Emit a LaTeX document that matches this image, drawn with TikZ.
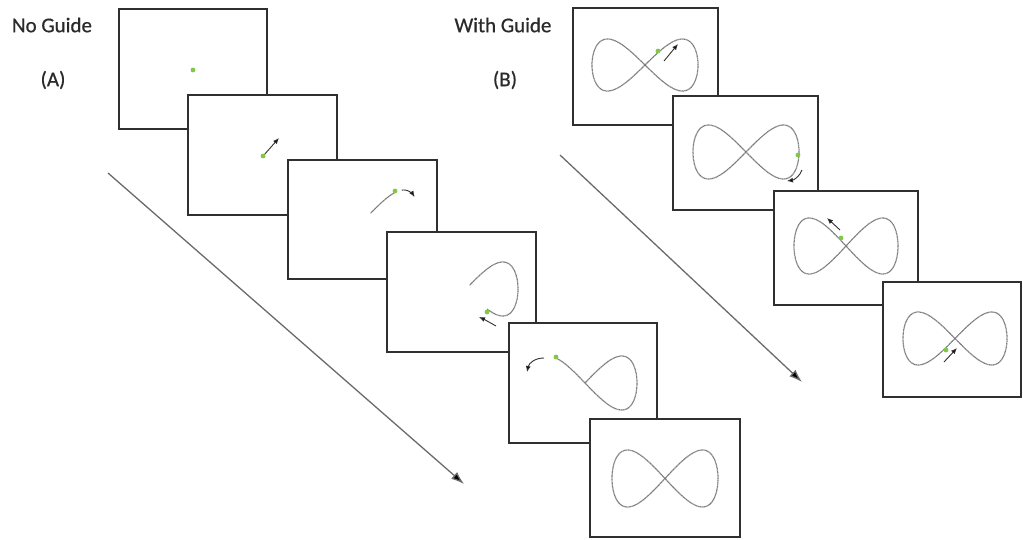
\documentclass[tikz,border=0pt]{standalone}
\usepackage{fontspec}
\setmainfont{Carlito}[FakeBold=0.6]
\usetikzlibrary{arrows.meta}
\definecolor{boxc}{HTML}{303030}
\definecolor{txtc}{HTML}{2A2A2A}
\definecolor{dotg}{RGB}{130,200,70}
\definecolor{tracec}{HTML}{7A7A7A}
\definecolor{longc}{HTML}{6A6A6A}
\begin{document}
\begin{tikzpicture}[x=1pt,y=-1pt,
  panel/.style={draw=boxc, line width=1.9pt, fill=white, inner sep=0pt, outer sep=0pt, anchor=north west},
  lbl/.style={font=\fontsize{21}{25}\selectfont, text=txtc, inner sep=0pt},
  trace/.style={draw=tracec, line width=1.2pt, dash pattern=on 0.9pt off 0.45pt},
  smarr/.style={draw=boxc, line width=0.9pt, -{Latex[length=6pt,width=5pt,fill=black]}},
  longarr/.style={draw=longc, line width=1.3pt, -{Latex[length=13pt,width=9pt,fill=black]}},
  gdot/.style={fill=dotg, draw=none}]
\useasboundingbox (0,0) rectangle (1023,539);
% labels
\node[lbl] (tA) at (52,25) {No Guide};
\node[lbl] (lA) at (53,80) {(A)};
\node[lbl] (tB) at (503,25) {With Guide};
\node[lbl] (lB) at (505,80) {(B)};
% long arrows
\coordinate (sA) at (108,173);
\coordinate (eA) at (464,484);
\draw[longarr] (sA) -- (eA);
\coordinate (sB) at (560,155);
\coordinate (eB) at (802,382);
\draw[longarr] (sB) -- (eB);
% ---------- A series ----------
\node[panel, minimum width=148pt, minimum height=120pt] (a1) at (119,9) {};
\fill[gdot] (193,70) circle (2.4pt);
\node[panel, minimum width=149pt, minimum height=120pt] (a2) at (188,95) {};
\draw[smarr] (264,155) -- (279,138);
\fill[gdot] (263,156) circle (2.4pt);
\node[panel, minimum width=149pt, minimum height=119pt] (a3) at (288,160) {};
\draw[trace] plot[domain=58:86, samples=30, variable=\t] ({367+52*cos(\t)},{217-27*sin(2*\t)});
\draw[smarr] plot[domain=48:24, samples=20, variable=\t] ({367+52*cos(\t)},{217-27*sin(2*\t)});
\fill[gdot] (395,191) circle (2.4pt);
\node[panel, minimum width=149pt, minimum height=120pt] (a4) at (387,232) {};
\draw[trace] plot[domain=-66:86, samples=100, variable=\t] ({466+52*cos(\t)},{289-27*sin(2*\t)});
\draw[smarr] (496,326) .. controls (490,322) .. (479,317);
\fill[gdot] (487,312) circle (2.4pt);
\node[panel, minimum width=148pt, minimum height=120pt] (a5) at (509,323) {};
\draw[trace] plot[domain=-124:90, samples=120, variable=\t] ({585+52*cos(\t)},{383-27*sin(2*\t)});
\draw[smarr] (544,358) .. controls (535,358) and (529,363) .. (527,372);
\fill[gdot] (556,357) circle (2.4pt);
\node[panel, minimum width=150pt, minimum height=118pt] (a6) at (590,419) {};
\draw[trace] plot[domain=0:360, samples=160, variable=\t] ({665+53*cos(\t)},{478.5-28.5*sin(2*\t)});
% ---------- B series ----------
\node[panel, minimum width=145pt, minimum height=117pt] (b1) at (573,8) {};
\draw[trace] plot[domain=0:360, samples=160, variable=\t] ({645+53*cos(\t)},{65-26*sin(2*\t)});
\draw[smarr] (664,61) -- (678,44);
\fill[gdot] (658,51) circle (2.4pt);
\node[panel, minimum width=145pt, minimum height=114pt] (b2) at (673,96) {};
\draw[trace] plot[domain=0:360, samples=160, variable=\t] ({746+53*cos(\t)},{152-27*sin(2*\t)});
\draw[smarr] (802,170) .. controls (800,176) and (794,180) .. (787,181);
\fill[gdot] (798,155) circle (2.4pt);
\node[panel, minimum width=144pt, minimum height=114pt] (b3) at (774,191) {};
\draw[trace] plot[domain=0:360, samples=160, variable=\t] ({846+52*cos(\t)},{246-28*sin(2*\t)});
\draw[smarr] (840,230) -- (827,218);
\fill[gdot] (841,238) circle (2.4pt);
\node[panel, minimum width=138pt, minimum height=115pt] (b4) at (883,282) {};
\draw[trace] plot[domain=0:360, samples=160, variable=\t] ({955+52*cos(\t)},{338.5-26.5*sin(2*\t)});
\draw[smarr] (944,362) -- (957,348);
\fill[gdot] (946,350) circle (2.4pt);
\end{tikzpicture}
\end{document}
